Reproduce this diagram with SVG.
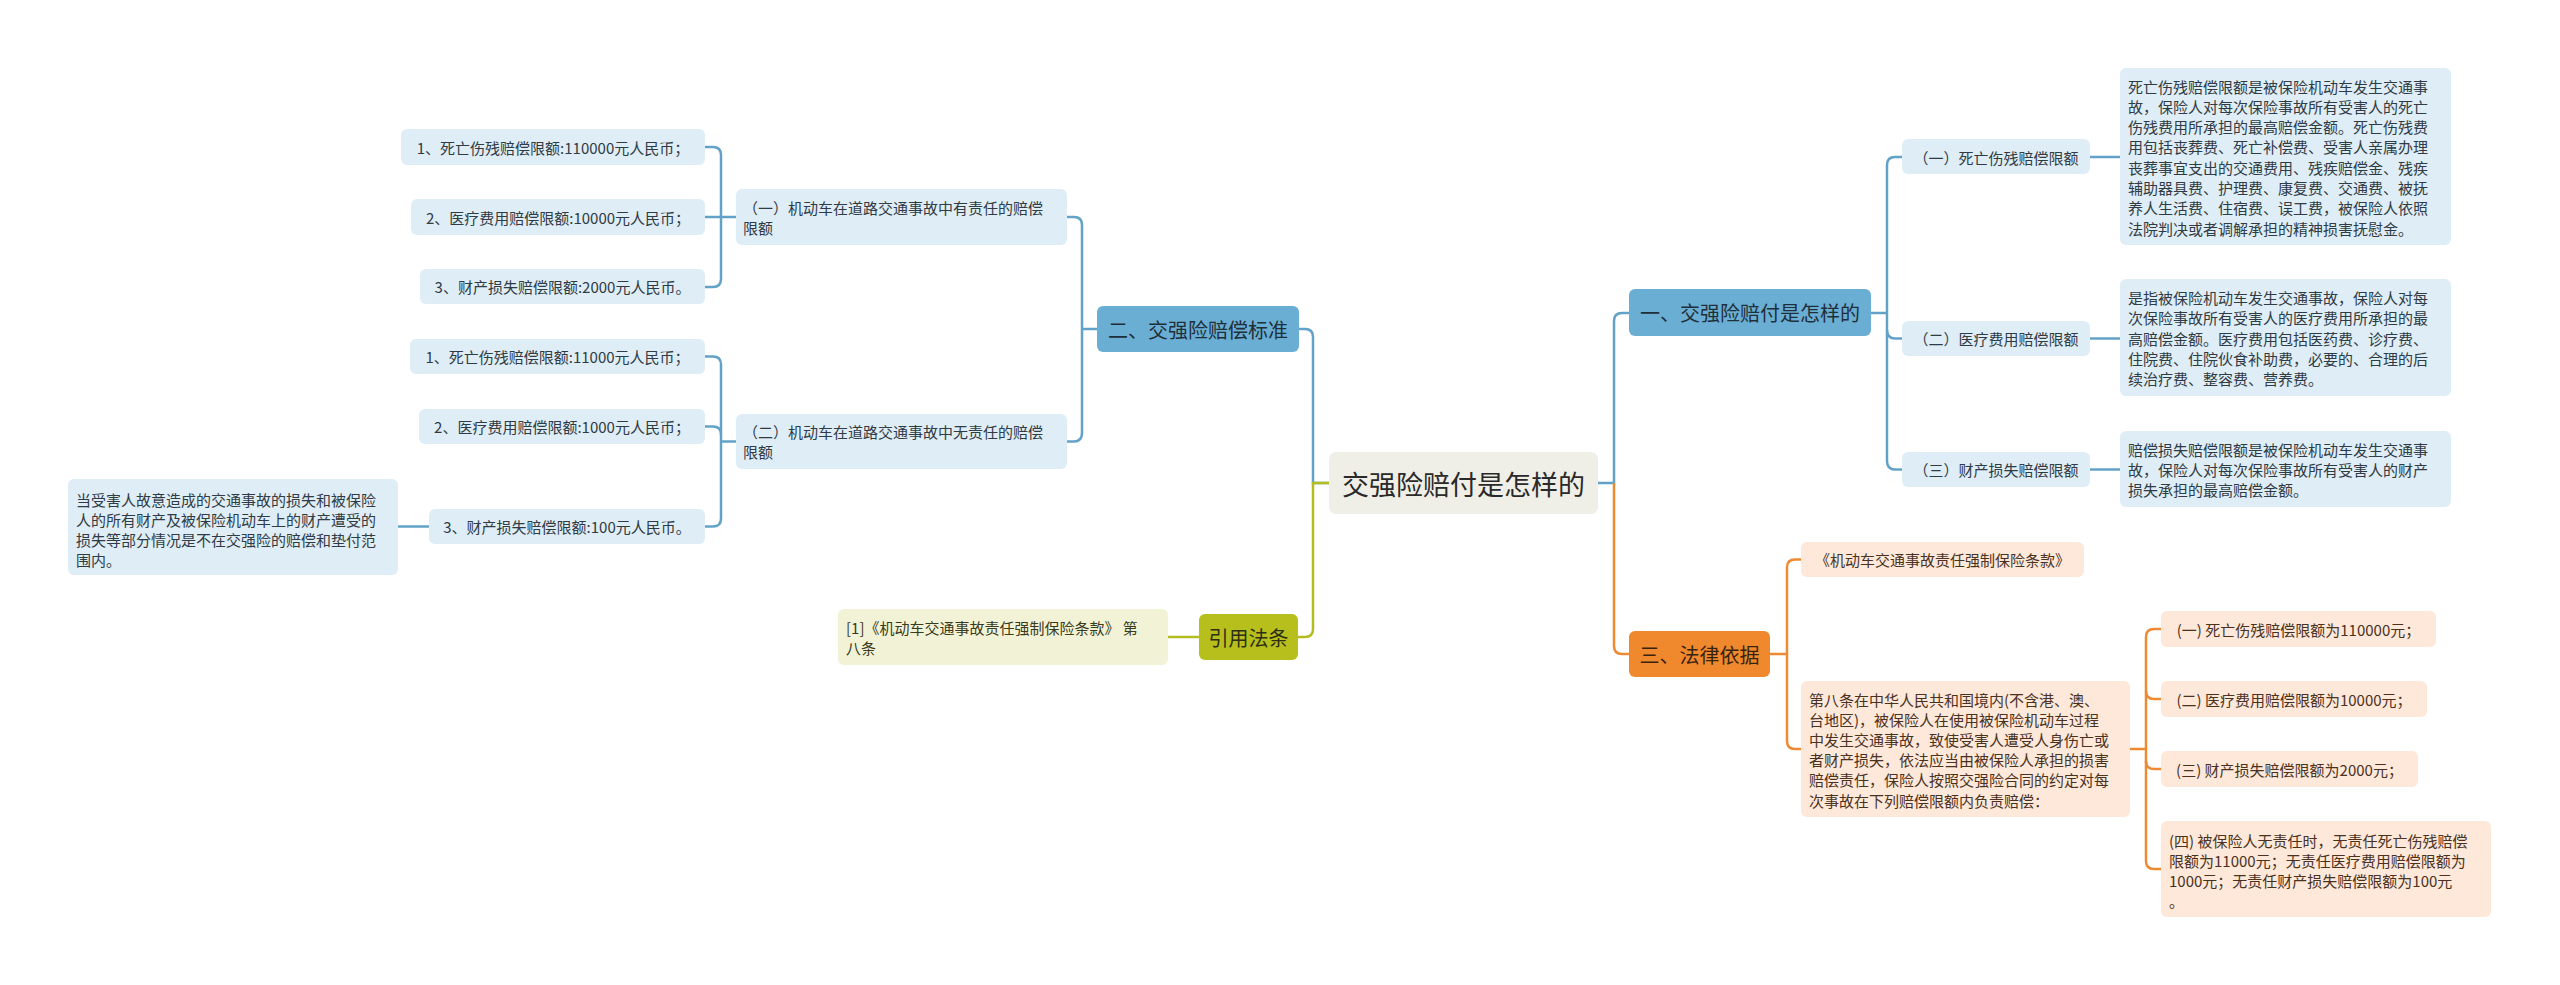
<svg xmlns="http://www.w3.org/2000/svg" width="2560" height="985" viewBox="0 0 2560 985">
<style>
text{font-family:"Noto Sans CJK SC","Noto Sans",sans-serif;dominant-baseline:central}
.m{text-anchor:middle}
.s{font-size:15px}
.h{font-size:20px}
.bs{fill:#dfedf6}
.os{fill:#fde8d9}
.gs{fill:#f2f3d6}
.bt{fill:#2f3b45}
.ot{fill:#4a321f}
.gt{fill:#3a3a1c}
.cb{fill:none;stroke:#63a2c8;stroke-width:2.5}
.co{fill:none;stroke:#ee8a33;stroke-width:2.5}
.cg{fill:none;stroke:#b3bd1f;stroke-width:2.5}
</style>
<rect width="2560" height="985" fill="#ffffff"/>
<g id="connectors">
<path class="cb" d="M1299,329 L1305,329 Q1313,329 1313,337 L1313,483 L1329,483"/>
<path class="cg" d="M1329,483 L1313,483 L1313,629 Q1313,637 1305,637 L1298,637"/>
<path class="cg" d="M1199,637 L1168,637"/>
<path class="cb" d="M1097,329 L1082,329"/>
<path class="cb" d="M1067,217 L1074,217 Q1082,217 1082,225 L1082,433 Q1082,441.5 1074,441.5 L1067,441.5"/>
<path class="cb" d="M705,147 L713,147 Q721,147 721,155 L721,279 Q721,287 713,287 L705,287"/>
<path class="cb" d="M705,217 L736,217"/>
<path class="cb" d="M705,356.5 L713,356.5 Q721,356.5 721,364.5 L721,518.5 Q721,526.5 713,526.5 L705,526.5"/>
<path class="cb" d="M705,426.5 L713,426.5 Q721,426.5 721,434.5"/>
<path class="cb" d="M736,441.5 L721,441.5"/>
<path class="cb" d="M429,526.5 L398,526.5"/>
<path class="cb" d="M1598,483 L1614,483 L1614,321 Q1614,313 1622,313 L1629,313"/>
<path class="co" d="M1614,483 L1614,646 Q1614,654 1622,654 L1629,654"/>
<path class="cb" d="M1871,313 L1887,313"/>
<path class="cb" d="M1902,157 L1895,157 Q1887,157 1887,165 L1887,461 Q1887,469.5 1895,469.5 L1902,469.5"/>
<path class="cb" d="M1887,330 Q1887,338.5 1895,338.5 L1902,338.5"/>
<path class="cb" d="M2090,157 L2120,157"/>
<path class="cb" d="M2090,338.5 L2120,338.5"/>
<path class="cb" d="M2090,469.5 L2120,469.5"/>
<path class="co" d="M1770,654 L1787,654"/>
<path class="co" d="M1801,559.5 L1795,559.5 Q1787,559.5 1787,567.5 L1787,741 Q1787,749 1795,749 L1801,749"/>
<path class="co" d="M2130,749 L2146,749"/>
<path class="co" d="M2161,629 L2154,629 Q2146,629 2146,637 L2146,861 Q2146,869 2154,869 L2161,869"/>
<path class="co" d="M2146,691 Q2146,699 2154,699 L2161,699"/>
<path class="co" d="M2146,761 Q2146,769 2154,769 L2161,769"/>
</g>
<g id="root">
<rect x="1329" y="452" width="269" height="62" rx="7" fill="#efefe8"/>
<text class="m" x="1463.5" y="483" font-size="27" fill="#2a2a2a">交强险赔付是怎样的</text>
</g>
<g id="n2">
<rect x="1097" y="306" width="202" height="46" rx="6" fill="#6aaed4"/>
<text class="m h" x="1198" y="329" fill="#1f2f3a">二、交强险赔偿标准</text>
</g>
<g id="n2-1">
<rect class="bs" x="736" y="189" width="331" height="56" rx="6"/>
<text class="s bt" x="743" y="207">（一）机动车在道路交通事故中有责任的赔偿</text>
<text class="s bt" x="743" y="227">限额</text>
</g>
<g id="n2-1-1">
<rect class="bs" x="401" y="129" width="304" height="36" rx="6"/>
<text class="m s bt" x="553" y="147">1、死亡伤残赔偿限额:110000元人民币；</text>
</g>
<g id="n2-1-2">
<rect class="bs" x="411" y="199" width="294" height="36" rx="6"/>
<text class="m s bt" x="558" y="217">2、医疗费用赔偿限额:10000元人民币；</text>
</g>
<g id="n2-1-3">
<rect class="bs" x="420" y="269" width="285" height="35" rx="6"/>
<text class="m s bt" x="562.5" y="286.5">3、财产损失赔偿限额:2000元人民币。</text>
</g>
<g id="n2-2">
<rect class="bs" x="736" y="414" width="331" height="55" rx="6"/>
<text class="s bt" x="743" y="431.5">（二）机动车在道路交通事故中无责任的赔偿</text>
<text class="s bt" x="743" y="451.5">限额</text>
</g>
<g id="n2-2-1">
<rect class="bs" x="410" y="339" width="295" height="35" rx="6"/>
<text class="m s bt" x="557.5" y="356.5">1、死亡伤残赔偿限额:11000元人民币；</text>
</g>
<g id="n2-2-2">
<rect class="bs" x="419" y="409" width="286" height="35" rx="6"/>
<text class="m s bt" x="562" y="426.5">2、医疗费用赔偿限额:1000元人民币；</text>
</g>
<g id="n2-2-3">
<rect class="bs" x="429" y="509" width="276" height="35" rx="6"/>
<text class="m s bt" x="567" y="526.5">3、财产损失赔偿限额:100元人民币。</text>
</g>
<g id="n2-2-3-1">
<rect class="bs" x="68" y="479" width="330" height="96" rx="6"/>
<text class="s bt" x="76" y="499">当受害人故意造成的交通事故的损失和被保险</text>
<text class="s bt" x="76" y="519">人的所有财产及被保险机动车上的财产遭受的</text>
<text class="s bt" x="76" y="539">损失等部分情况是不在交强险的赔偿和垫付范</text>
<text class="s bt" x="76" y="559">围内。</text>
</g>
<g id="n4">
<rect x="1199" y="614" width="99" height="46" rx="6" fill="#b6bf1c"/>
<text class="m h" x="1248.5" y="637" fill="#2e2e10">引用法条</text>
</g>
<g id="n4-1">
<rect class="gs" x="838" y="609" width="330" height="56" rx="6"/>
<text class="s gt" x="846" y="627">[1]《机动车交通事故责任强制保险条款》 第</text>
<text class="s gt" x="846" y="647">八条</text>
</g>
<g id="n1">
<rect x="1629" y="289" width="242" height="47" rx="6" fill="#6aaed4"/>
<text class="m h" x="1750" y="312.5" fill="#1f2f3a">一、交强险赔付是怎样的</text>
</g>
<g id="n1-1">
<rect class="bs" x="1902" y="139" width="188" height="35" rx="6"/>
<text class="m s bt" x="1996" y="157">（一）死亡伤残赔偿限额</text>
</g>
<g id="n1-1-1">
<rect class="bs" x="2120" y="68" width="331" height="177" rx="6"/>
<text class="s bt" x="2128" y="86">死亡伤残赔偿限额是被保险机动车发生交通事</text>
<text class="s bt" x="2128" y="106.3">故，保险人对每次保险事故所有受害人的死亡</text>
<text class="s bt" x="2128" y="126.6">伤残费用所承担的最高赔偿金额。死亡伤残费</text>
<text class="s bt" x="2128" y="146.9">用包括丧葬费、死亡补偿费、受害人亲属办理</text>
<text class="s bt" x="2128" y="167.2">丧葬事宜支出的交通费用、残疾赔偿金、残疾</text>
<text class="s bt" x="2128" y="187.5">辅助器具费、护理费、康复费、交通费、被抚</text>
<text class="s bt" x="2128" y="207.8">养人生活费、住宿费、误工费，被保险人依照</text>
<text class="s bt" x="2128" y="228.1">法院判决或者调解承担的精神损害抚慰金。</text>
</g>
<g id="n1-2">
<rect class="bs" x="1902" y="321" width="188" height="35" rx="6"/>
<text class="m s bt" x="1996" y="338.5">（二）医疗费用赔偿限额</text>
</g>
<g id="n1-2-1">
<rect class="bs" x="2120" y="279" width="331" height="117" rx="6"/>
<text class="s bt" x="2128" y="297.5">是指被保险机动车发生交通事故，保险人对每</text>
<text class="s bt" x="2128" y="317.8">次保险事故所有受害人的医疗费用所承担的最</text>
<text class="s bt" x="2128" y="338.1">高赔偿金额。医疗费用包括医药费、诊疗费、</text>
<text class="s bt" x="2128" y="358.4">住院费、住院伙食补助费，必要的、合理的后</text>
<text class="s bt" x="2128" y="378.7">续治疗费、整容费、营养费。</text>
</g>
<g id="n1-3">
<rect class="bs" x="1902" y="452" width="188" height="35" rx="6"/>
<text class="m s bt" x="1996" y="469.5">（三）财产损失赔偿限额</text>
</g>
<g id="n1-3-1">
<rect class="bs" x="2120" y="431" width="331" height="76" rx="6"/>
<text class="s bt" x="2128" y="449">赔偿损失赔偿限额是被保险机动车发生交通事</text>
<text class="s bt" x="2128" y="469.3">故，保险人对每次保险事故所有受害人的财产</text>
<text class="s bt" x="2128" y="489.6">损失承担的最高赔偿金额。</text>
</g>
<g id="n3">
<rect x="1629" y="631" width="141" height="46" rx="6" fill="#f0892d"/>
<text class="m h" x="1699.5" y="654" fill="#3a2210">三、法律依据</text>
</g>
<g id="n3-1">
<rect class="os" x="1801" y="542" width="283" height="35" rx="6"/>
<text class="m s ot" x="1942.5" y="559.5">《机动车交通事故责任强制保险条款》</text>
</g>
<g id="n3-2">
<rect class="os" x="1801" y="681" width="329" height="136" rx="6"/>
<text class="s ot" x="1809" y="699">第八条在中华人民共和国境内(不含港、澳、</text>
<text class="s ot" x="1809" y="719.2">台地区)，被保险人在使用被保险机动车过程</text>
<text class="s ot" x="1809" y="739.4">中发生交通事故，致使受害人遭受人身伤亡或</text>
<text class="s ot" x="1809" y="759.6">者财产损失，依法应当由被保险人承担的损害</text>
<text class="s ot" x="1809" y="779.8">赔偿责任，保险人按照交强险合同的约定对每</text>
<text class="s ot" x="1809" y="800">次事故在下列赔偿限额内负责赔偿：</text>
</g>
<g id="n3-2-1">
<rect class="os" x="2161" y="611" width="275" height="36" rx="6"/>
<text class="m s ot" x="2298.5" y="629">(一) 死亡伤残赔偿限额为110000元；</text>
</g>
<g id="n3-2-2">
<rect class="os" x="2161" y="681" width="266" height="36" rx="6"/>
<text class="m s ot" x="2294" y="699">(二) 医疗费用赔偿限额为10000元；</text>
</g>
<g id="n3-2-3">
<rect class="os" x="2161" y="751" width="257" height="36" rx="6"/>
<text class="m s ot" x="2289.5" y="769">(三) 财产损失赔偿限额为2000元；</text>
</g>
<g id="n3-2-4">
<rect class="os" x="2161" y="821" width="330" height="96" rx="6"/>
<text class="s ot" x="2169" y="840">(四) 被保险人无责任时，无责任死亡伤残赔偿</text>
<text class="s ot" x="2169" y="860">限额为11000元；无责任医疗费用赔偿限额为</text>
<text class="s ot" x="2169" y="880">1000元；无责任财产损失赔偿限额为100元</text>
<text class="s ot" x="2169" y="900">。</text>
</g>
</svg>
